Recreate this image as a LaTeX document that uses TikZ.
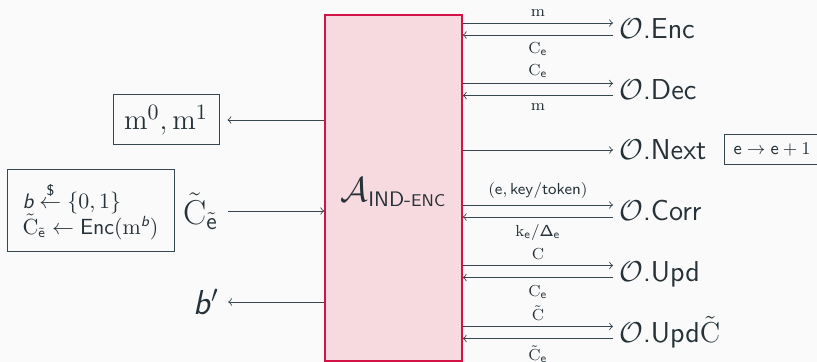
\documentclass[tikz,border=0pt]{standalone}
\usepackage{amsmath}
\definecolor{bgc}{HTML}{FAFAFA}
\definecolor{ink}{HTML}{263238}
\definecolor{linec}{HTML}{37474F}
\definecolor{advfill}{HTML}{F7D9E0}
\definecolor{advdraw}{HTML}{D31245}
\newcommand{\bsf}{\textsf{\itshape b}}
\begin{document}
\begin{tikzpicture}[x=0.5pt,y=-0.5pt,
  every node/.style={text=ink},
  conn/.style={draw=linec,line width=0.45pt,->},
  lab/.style={font=\footnotesize,inner sep=2.8pt},
  labb/.style={font=\footnotesize,inner sep=3.6pt},
  oracle/.style={anchor=west,inner sep=0pt,font=\sffamily\Large,text height=10pt,text depth=0pt},
  infobox/.style={draw=linec,line width=0.5pt,inner sep=0pt},
  adv/.style={draw=advdraw,fill=advfill,line width=0.8pt,minimum width=68.5pt,minimum height=173pt,inner sep=0pt}
]
\fill[bgc] (0,0) rectangle (817,362);
\clip (0,0) rectangle (817,362);

% adversary box
\node[adv] (A) at (393.5,188) {};
\node at (393.5,192) {\LARGE$\mathcal{A}_{\text{\sffamily\fontsize{10.5}{12}\selectfont IND-\fontsize{8.5}{10}\selectfont ENC}}$};

% oracles
\node[oracle] (Enc) at (619,29) {$\mathcal{O}$.Enc};
\node[oracle] (Dec) at (619,89.5) {$\mathcal{O}$.Dec};
\node[oracle] (Next) at (619,150) {$\mathcal{O}$.Next};
\node[oracle] (Corr) at (619,211) {$\mathcal{O}$.Corr};
\node[oracle] (Upd) at (619,271.5) {$\mathcal{O}$.Upd};
\node[oracle] (UpdC) at (619,332.5) {$\mathcal{O}$.Upd$\tilde{\mathrm{C}}$};

\node[infobox,anchor=west,minimum height=15pt,inner xsep=4.5pt,font=\fontsize{8.9}{10}\selectfont] (nextinfo) at (724,150) {$\mathsf{e}\rightarrow\mathsf{e}+1$\hspace{14pt}};

% right-side connectors
\draw[conn] ([yshift=3pt]A.east |- Enc.west) -- ([xshift=-3pt,yshift=3pt]Enc.west) node[lab,midway,above] {$\mathrm{m}$};
\draw[conn] ([xshift=-3pt,yshift=-3pt]Enc.west) -- ([yshift=-3pt]A.east |- Enc.west) node[labb,midway,below] {$\mathrm{C}_{\mathsf{e}}$};

\draw[conn] ([yshift=3pt]A.east |- Dec.west) -- ([xshift=-3pt,yshift=3pt]Dec.west) node[lab,midway,above] {$\mathrm{C}_{\mathsf{e}}$};
\draw[conn] ([xshift=-3pt,yshift=-3pt]Dec.west) -- ([yshift=-3pt]A.east |- Dec.west) node[labb,midway,below] {$\mathrm{m}$};

\draw[conn] (A.east |- Next.west) -- ([xshift=-3pt]Next.west);

\draw[conn] ([yshift=3pt]A.east |- Corr.west) -- ([xshift=-3pt,yshift=3pt]Corr.west) node[lab,midway,above] {$(\mathsf{e},\mathsf{key}/\mathsf{token})$};
\draw[conn] ([xshift=-3pt,yshift=-3pt]Corr.west) -- ([yshift=-3pt]A.east |- Corr.west) node[labb,midway,below] {$\mathrm{k}_{\mathsf{e}}/\mathsf{\Delta}_{\mathsf{e}}$};

\draw[conn] ([yshift=3pt]A.east |- Upd.west) -- ([xshift=-3pt,yshift=3pt]Upd.west) node[lab,midway,above] {$\mathrm{C}$};
\draw[conn] ([xshift=-3pt,yshift=-3pt]Upd.west) -- ([yshift=-3pt]A.east |- Upd.west) node[labb,midway,below] {$\mathrm{C}_{\mathsf{e}}$};

\draw[conn] ([yshift=3pt]A.east |- UpdC.west) -- ([xshift=-3pt,yshift=3pt]UpdC.west) node[lab,midway,above] {$\tilde{\mathrm{C}}$};
\draw[conn] ([xshift=-3pt,yshift=-3pt]UpdC.west) -- ([yshift=-3pt]A.east |- UpdC.west) node[labb,midway,below] {$\tilde{\mathrm{C}}_{\mathsf{e}}$};

% left side
\node[infobox,minimum width=53pt,minimum height=25pt] (m01) at (166,120) {\fontsize{15.5}{18}\selectfont$\mathrm{m}^0,\mathrm{m}^1$};
\draw[conn] (A.west |- m01.east) -- ([xshift=4pt]m01.east);

\node[infobox,minimum width=83.5pt,minimum height=41pt,align=left,font=\fontsize{10.5}{13}\selectfont] (setup) at (90.5,211)
  {$\bsf \overset{\textsf{\$}}{\leftarrow} \{0,1\}$\\ $\tilde{\mathrm{C}}_{\tilde{\mathsf{e}}} \leftarrow \mathsf{Enc}(\mathrm{m}^{\bsf})$};

\node[inner sep=0pt] (Ct) at (200.5,211) {\LARGE$\tilde{\mathrm{C}}_{\tilde{\mathsf{e}}}$};
\draw[conn] ([xshift=5pt]Ct.east) -- (A.west |- Ct.east);

\node[inner sep=0pt] (bp) at (206,302) {\LARGE\bsf$'$};
\draw[conn] (A.west |- bp.east) -- ([xshift=4.5pt]bp.east);
\end{tikzpicture}
\end{document}
